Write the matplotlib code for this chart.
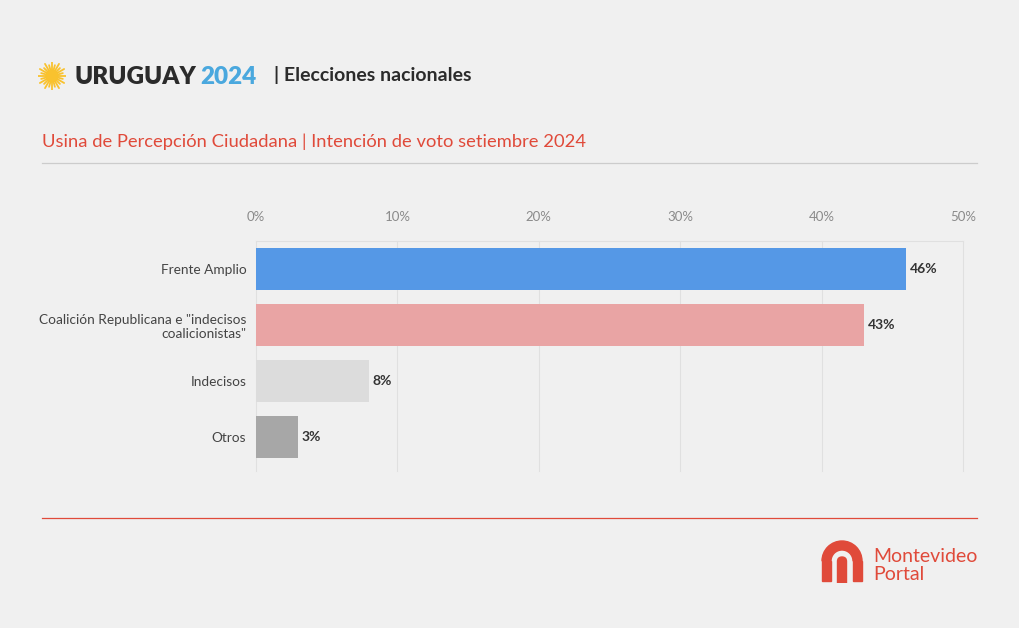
import numpy as np
import matplotlib.pyplot as plt
from matplotlib.patches import Rectangle, Wedge, FancyBboxPatch

plt.rcParams['font.family'] = ['Lato', 'DejaVu Sans']

categories = ['Frente Amplio', 'Coalición Republicana e "indecisos\ncoalicionistas"', 'Indecisos', 'Otros']
values = [46, 43, 8, 3]
colors = ['#5598e6', '#e9a4a4', '#dcdcdc', '#a7a7a7']
ticks = [0, 10, 20, 30, 40, 50]

bg = '#f0f0f0'
red = '#e04a3a'

fig = plt.figure(figsize=(10.2, 6.28), dpi=100, facecolor=bg)

W, H = 1020, 628
def fx(x):
    return x / W
def fy(y):
    return 1 - y / H

ax = fig.add_axes([fx(256), fy(471), fx(963) - fx(256), fy(241) - fy(471)])
ax.set_facecolor(bg)
y = np.arange(len(categories))
ax.barh(y, values, height=0.75, color=colors, zorder=3)
for yi, v in zip(y, values):
    ax.text(v + 0.25, yi, f'{v}%', va='center', ha='left', fontsize=10,
            fontweight='bold', color='#333333', zorder=4)
ax.set_xlim(0, 50)
ax.set_ylim(3.6, -0.5)
ax.set_xticks(ticks)
ax.set_xticklabels([f'{t}%' for t in ticks])
ax.xaxis.tick_top()
ax.tick_params(axis='x', length=0, pad=13, labelsize=9.5, labelcolor='#8a8a8a')
ax.set_yticks(y)
ax.set_yticklabels(categories, fontsize=9.8, color='#444444', linespacing=1.15)
ax.tick_params(axis='y', length=0, pad=7)
for t in ticks:
    ax.axvline(t, color='#e0e0e0', linewidth=0.8, zorder=0, clip_on=False)
for s in ['right', 'bottom', 'left']:
    ax.spines[s].set_visible(False)
ax.spines['top'].set_color('#e0e0e0')
ax.spines['top'].set_linewidth(0.8)

# header
sun = fig.add_axes([fx(38), fy(90), fx(28), fy(62) - fy(90)])
sun.set_xlim(-1, 1)
sun.set_ylim(-1, 1)
sun.axis('off')
for k in range(24):
    a = k * np.pi / 12
    r = 1.0 if k % 2 == 0 else 0.8
    sun.plot([0, r * np.cos(a)], [0, r * np.sin(a)], color='#f9c22e', lw=1.3, solid_capstyle='round')
sun.add_patch(plt.Circle((0, 0), 0.42, color='#f9c22e'))

fig.text(fx(75), fy(77), 'URUGUAY', fontsize=17.5, fontweight='heavy', color='#2b2b2b', va='center')
fig.text(fx(200), fy(77), '2024', fontsize=17.5, fontweight='heavy', color='#4aa8de', va='center')
fig.text(fx(274), fy(75), '| Elecciones nacionales', fontsize=14, fontweight='bold', color='#2b2b2b', va='center')

fig.text(fx(42), fy(142), 'Usina de Percepción Ciudadana | Intención de voto setiembre 2024',
         fontsize=13.2, color=red, va='center')
fig.add_artist(plt.Line2D([fx(42), fx(977)], [fy(163), fy(163)], color='#cccccc', lw=0.9))
fig.add_artist(plt.Line2D([fx(42), fx(977)], [fy(518), fy(518)], color=red, lw=0.9))

# logo
lg = fig.add_axes([fx(820), fy(583), fx(44), fy(539) - fy(583)])
lg.set_xlim(820, 864)
lg.set_ylim(583, 539)
lg.axis('off')
lg.add_patch(Wedge((842, 561), 20, 180, 360, width=9, color=red))
lg.add_patch(Rectangle((822, 561), 9, 20, color=red))
lg.add_patch(Rectangle((853, 561), 9, 20, color=red))
lg.add_patch(FancyBboxPatch((837.5, 557), 9, 30, boxstyle='round,pad=0,rounding_size=4.5', color=red))
fig.text(fx(873), fy(556), 'Montevideo', fontsize=14, color=red, va='center')
fig.text(fx(873), fy(575), 'Portal', fontsize=14, color=red, va='center')

fig.savefig('out.png', dpi=100, facecolor=bg)
